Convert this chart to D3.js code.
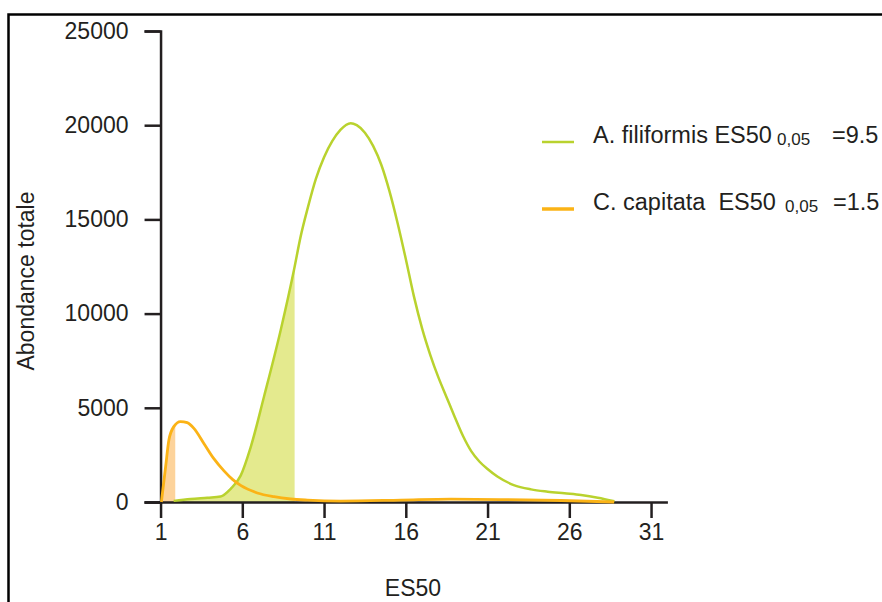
<!DOCTYPE html>
<html>
<head>
<meta charset="utf-8">
<script src="https://cdn.jsdelivr.net/npm/d3@7"></script>
<style>
	body { margin: 0; background: #fff; }
	svg { display: block; }
	text { font-family: "Liberation Sans", Arial, sans-serif; fill: #231f20; }
</style>
</head>
<body>
<svg id="chart" width="882" height="602"></svg>
<script>
(function (d3) {
	"use strict";

	/***** Data *****/

	// Axis ticks
	var xTicks = [1, 6, 11, 16, 21, 26, 31];
	var yTicks = [0, 5000, 10000, 15000, 20000, 25000];

	// A. filiformis : abundance vs ES50
	var filiformisES50 = [1.8, 2.84, 3.86, 4.67, 5.29, 5.9, 6.51, 7.33, 8.35, 9.16, 9.57, 10.0, 10.5, 11.0, 11.5, 12.0, 12.63, 13.0, 13.5, 14.0, 14.5, 15.0, 15.5, 16.0, 16.5, 17.0, 17.5, 18.0, 18.5, 19.0, 19.5, 20.0, 20.5, 21.0, 21.6, 22.6, 23.66, 24.68, 25.7, 26.72, 27.74, 28.76];
	var filiformisAbund = [60, 160, 230, 290, 700, 1400, 2900, 5600, 9130, 12310, 14100, 15600, 17150, 18300, 19150, 19750, 20110, 20000, 19600, 18900, 17900, 16500, 14800, 12900, 10900, 9200, 7800, 6600, 5550, 4500, 3500, 2700, 2150, 1750, 1350, 900, 670, 550, 460, 370, 230, 40];

	// C. capitata : abundance vs ES50
	var capitataES50 = [1.05, 1.31, 1.51, 1.81, 2.22, 2.63, 3.04, 3.65, 4.26, 4.88, 5.4, 5.9, 6.92, 7.94, 8.96, 9.98, 12.02, 15.7, 18.76, 21.82, 25.5, 28.74];
	var capitataAbund = [0, 1870, 3290, 4000, 4270, 4210, 3910, 3110, 2300, 1650, 1200, 880, 480, 280, 160, 100, 50, 100, 150, 130, 80, 0];

	// ES50 0,05 thresholds as drawn (shaded parts)
	var filiformisShade = [1.8, 9.2];
	var capitataShade = [1.05, 1.9];

	// Legend texts
	var legendNames = ["A. filiformis ES50", "C. capitata  ES50"];
	var legendSub = ["0,05", "0,05"];
	var legendValues = ["=9.5", "=1.5"];

	/***** Colors *****/
	var greenLine = "#b9d22e";
	var greenFill = "#e4ea8e";
	var orangeLine = "#fbb316";
	var orangeFill = "#fdd39b";
	var ink = "#231f20";

	var svg = d3.select("#chart");

	// Outer frame (only left and top visible)
	svg.append("path")
		.attr("d", "M8.5,602V14.5H882")
		.attr("fill", "none")
		.attr("stroke", "#000")
		.attr("stroke-width", 2.5);

	/***** Scales *****/
	var x = d3.scaleLinear().domain([0, 32]).range([144.2, 667.4]);
	var y = d3.scaleLinear().domain([0, 25000]).range([502, 31]);

	function zipSeries(xs, ys) {
		return xs.map(function (v, i) { return {x: v, y: ys[i]}; });
	}
	var filiformis = zipSeries(filiformisES50, filiformisAbund);
	var capitata = zipSeries(capitataES50, capitataAbund);

	var line = d3.line()
		.x(function (d) { return x(d.x); })
		.y(function (d) { return y(d.y); })
		.curve(d3.curveMonotoneX);

	var area = d3.area()
		.x(function (d) { return x(d.x); })
		.y0(y(0))
		.y1(function (d) { return y(d.y); })
		.curve(d3.curveMonotoneX);

	// Clip rects for shaded parts
	var defs = svg.append("defs");
	function addClip(id, range) {
		defs.append("clipPath").attr("id", id)
			.append("rect")
			.attr("x", x(range[0]))
			.attr("y", y(25000))
			.attr("width", x(range[1]) - x(range[0]))
			.attr("height", y(0) - y(25000));
	}
	addClip("clipFili", filiformisShade);
	addClip("clipCapi", capitataShade);

	/***** Shaded areas *****/
	svg.append("path")
		.datum(filiformis)
		.attr("d", area)
		.attr("fill", greenFill)
		.attr("clip-path", "url(#clipFili)");

	svg.append("path")
		.datum(capitata)
		.attr("d", area)
		.attr("fill", orangeFill)
		.attr("clip-path", "url(#clipCapi)");

	/***** Axes *****/
	var yAxis = d3.axisLeft(y)
		.tickValues(yTicks)
		.tickSize(16)
		.tickSizeOuter(16)
		.tickPadding(16)
		.tickFormat(d3.format("d"));

	var xAxis = d3.axisBottom(x)
		.tickValues(xTicks)
		.tickSize(16)
		.tickSizeOuter(0)
		.tickPadding(6);

	var gy = svg.append("g")
		.attr("transform", "translate(" + x(1) + ",0)")
		.call(yAxis);

	var gx = svg.append("g")
		.attr("transform", "translate(0," + y(0) + ")")
		.call(xAxis);

	[gx, gy].forEach(function (g) {
		g.selectAll("path, line").attr("stroke", ink).attr("stroke-width", 2.5);
		g.selectAll("text")
			.attr("fill", ink)
			.style("font-family", "'Liberation Sans', Arial, sans-serif")
			.style("font-size", "23px");
	});

	/***** Lines *****/
	svg.append("path")
		.datum(filiformis)
		.attr("d", line)
		.attr("fill", "none")
		.attr("stroke", greenLine)
		.attr("stroke-width", 2.5);

	svg.append("path")
		.datum(capitata)
		.attr("d", line)
		.attr("fill", "none")
		.attr("stroke", orangeLine)
		.attr("stroke-width", 2.8);

	/***** Axis titles *****/
	svg.append("text")
		.attr("x", 413)
		.attr("y", 596)
		.attr("text-anchor", "middle")
		.style("font-size", "23px")
		.text("ES50");

	svg.append("text")
		.attr("transform", "translate(34,281) rotate(-90)")
		.attr("text-anchor", "middle")
		.style("font-size", "23px")
		.text("Abondance totale");

	/***** Legend *****/
	var legendColors = [greenLine, orangeLine];
	var legendY = [142, 209];
	var subX = [777, 785];
	var valueX = [832, 833];

	legendNames.forEach(function (name, i) {
		svg.append("line")
			.attr("x1", 542).attr("x2", 574)
			.attr("y1", legendY[i]).attr("y2", legendY[i])
			.attr("stroke", legendColors[i])
			.attr("stroke-width", i === 0 ? 2.5 : 3.5);

		var t = svg.append("text")
			.attr("x", 593)
			.attr("y", legendY[i] + 1)
			.style("white-space", "pre")
			.style("font-size", "23.5px");
		t.append("tspan").text(name);
		t.append("tspan")
			.attr("x", subX[i]).attr("dy", 2)
			.style("font-size", "17px")
			.text(legendSub[i]);
		t.append("tspan")
			.attr("x", valueX[i]).attr("dy", -2)
			.text(legendValues[i]);
	});

})(d3);
</script>
</body>
</html>
